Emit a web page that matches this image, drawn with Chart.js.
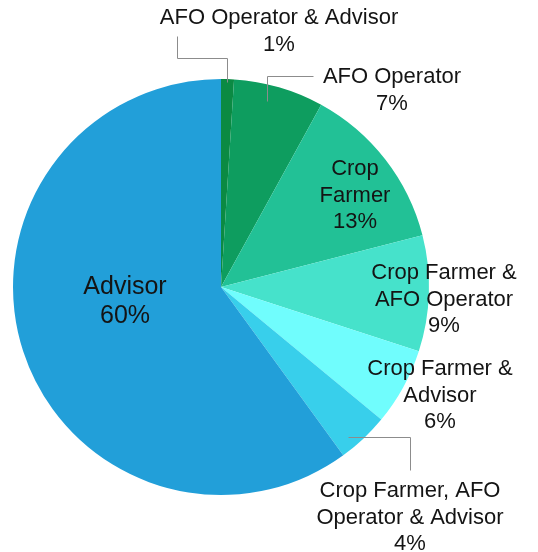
<!DOCTYPE html>
<html>
<head>
<meta charset="utf-8">
<script src="https://cdn.jsdelivr.net/npm/chart.js@4.4.1/dist/chart.umd.min.js"></script>
<style>
  html, body { margin: 0; padding: 0; background: #fff; }
  #wrap { width: 538px; height: 552px; position: relative; }
</style>
</head>
<body>
<div id="wrap"><canvas id="myChart" width="538" height="552"></canvas></div>
<script>
var categories = [
  "AFO Operator & Advisor",
  "AFO Operator",
  "Crop Farmer",
  "Crop Farmer & AFO Operator",
  "Crop Farmer & Advisor",
  "Crop Farmer, AFO Operator & Advisor",
  "Advisor"
];
var values = [1, 7, 13, 9, 6, 4, 60];
var colors = ["#0b8a43", "#0e9d5f", "#22c196", "#46e2cb", "#70fdfd", "#38cfeb", "#229fd9"];

// label lines (text) and where they go, plus optional leader lines
var labelLines = [
  ["AFO Operator & Advisor", "1%"],
  ["AFO Operator", "7%"],
  ["Crop", "Farmer", "13%"],
  ["Crop Farmer &", "AFO Operator", "9%"],
  ["Crop Farmer &", "Advisor", "6%"],
  ["Crop Farmer, AFO", "Operator & Advisor", "4%"],
  ["Advisor", "60%"]
];
var labelPos = [[279, 18], [392, 77], [355, 169], [444, 273], [440, 369], [410, 491], [125, 287]];
var labelSize = [22, 22, 22, 22, 22, 22, 25];
var leaders = [
  [[177, 36], [177, 58], [227, 58], [227, 82]],
  [[313, 76], [267, 76], [267, 101]],
  null, null, null,
  [[348, 437], [410, 437], [410, 470]],
  null
];

var labelPlugin = {
  id: "sliceLabels",
  afterDatasetsDraw: function (chart) {
    var ctx = chart.ctx;
    ctx.save();
    ctx.strokeStyle = "#8c8c8c";
    ctx.lineWidth = 1;
    leaders.forEach(function (pts) {
      if (!pts) return;
      ctx.beginPath();
      ctx.moveTo(pts[0][0] + 0.5, pts[0][1] + 0.5);
      for (var i = 1; i < pts.length; i++) ctx.lineTo(pts[i][0] + 0.5, pts[i][1] + 0.5);
      ctx.stroke();
    });
    ctx.fillStyle = "#141414";
    ctx.textAlign = "center";
    ctx.textBaseline = "middle";
    labelLines.forEach(function (lines, i) {
      ctx.font = labelSize[i] + "px 'Liberation Sans', Arial, sans-serif";
      var lh = i == 6 ? 29 : 26.5;
      lines.forEach(function (t, j) {
        ctx.fillText(t, labelPos[i][0], labelPos[i][1] + j * lh);
      });
    });
    ctx.restore();
  }
};

new Chart(document.getElementById("myChart"), {
  type: "pie",
  data: {
    labels: categories,
    datasets: [{
      data: values,
      backgroundColor: colors,
      borderWidth: 0
    }]
  },
  options: {
    responsive: false,
    animation: false,
    layout: { padding: { left: 13, right: 109, top: 79, bottom: 57 } },
    plugins: {
      legend: { display: false },
      tooltip: { enabled: false }
    }
  },
  plugins: [labelPlugin]
});
</script>
</body>
</html>
